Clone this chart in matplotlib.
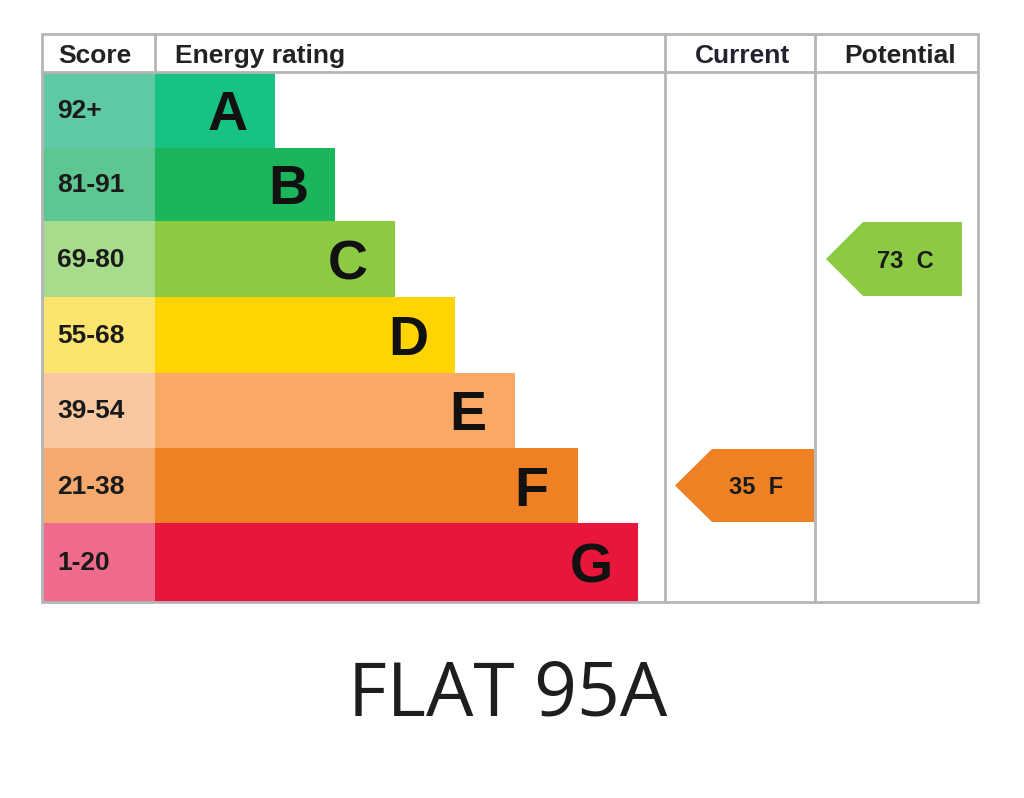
import matplotlib
matplotlib.use("Agg")
import matplotlib.pyplot as plt
from matplotlib.patches import Polygon, Rectangle

# ---- data ----
bands = ["A", "B", "C", "D", "E", "F", "G"]
score_ranges = ["92+", "81-91", "69-80", "55-68", "39-54", "21-38", "1-20"]
bar_colors = ["#17c283", "#1bb65c", "#8cca44", "#ffd400", "#f9a866", "#ef8125", "#e8163b"]
score_colors = ["#5ec9a2", "#5ec690", "#a6dc8b", "#fde46e", "#f9c7a0", "#f5a96e", "#ee6b8c"]
headers = ["Score", "Energy rating", "Current", "Potential"]
current_score, current_band = 35, "F"
potential_score, potential_band = 73, "C"
title = "FLAT 95A"

# ---- layout (pixel coordinates) ----
W, H = 1024, 798
fig = plt.figure(figsize=(W / 100, H / 100), dpi=100)
ax = fig.add_axes([0, 0, 1, 1])
ax.set_xlim(0, W)
ax.set_ylim(H, 0)
ax.axis("off")

left, right = 42, 978
top, head_bot, bottom = 34, 72, 602
x_score_end = 155
x_cur, x_pot = 665, 815
row_edges = [72, 148, 221, 297, 373, 448, 523, 602]
row_h = [row_edges[i + 1] - row_edges[i] for i in range(len(bands))]
centers = [(row_edges[i] + row_edges[i + 1]) / 2 for i in range(len(bands))]
bar_ends = [275, 335, 395, 455, 515, 578, 638]

# score cells
ax.barh(centers, [x_score_end - left] * len(bands), left=left, height=row_h,
        color=score_colors, edgecolor="none", zorder=1)
# rating bars
ax.barh(centers, [e - x_score_end for e in bar_ends], left=x_score_end, height=row_h,
        color=bar_colors, edgecolor="none", zorder=1)

lab_font = {"family": "Liberation Sans", "weight": "bold"}
for i, b in enumerate(bands):
    ax.text(57, centers[i] + 1, score_ranges[i], ha="left", va="center",
            fontsize=19, color="#1a1a1a", **lab_font, zorder=3)
    ax.text(bar_ends[i] - 47, centers[i] + 6, b, ha="center", va="center",
            fontsize=40, color="#111111", **lab_font, zorder=3)

# grid lines
gc = "#b5b5b5"
lw = 2
ax.add_patch(Rectangle((left, top), right - left, bottom - top, fill=False,
                       edgecolor=gc, linewidth=lw, zorder=4))
ax.plot([left, right], [head_bot, head_bot], color=gc, lw=lw, zorder=4)
ax.plot([x_score_end, x_score_end], [top, head_bot], color=gc, lw=lw, zorder=4)
for x in (x_cur, x_pot):
    ax.plot([x, x], [top, bottom], color=gc, lw=lw, zorder=4)

# headers
hy = (top + head_bot) / 2 + 3
ax.text(58, hy, headers[0], ha="left", va="center", fontsize=19, color="#222222", **lab_font)
ax.text(175, hy, headers[1], ha="left", va="center", fontsize=19, color="#222222", **lab_font)
ax.text((x_cur + x_pot) / 2 + 2, hy, headers[2], ha="center", va="center", fontsize=19,
        color="#222233", **lab_font)
ax.text((x_pot + right) / 2 + 4, hy, headers[3], ha="center", va="center", fontsize=19,
        color="#222222", **lab_font)


def arrow(x0, x1, band, score):
    i = bands.index(band)
    yc = centers[i]
    h = row_h[i] - 2
    tip = 37
    pts = [(x0, yc), (x0 + tip, yc - h / 2), (x1, yc - h / 2), (x1, yc + h / 2),
           (x0 + tip, yc + h / 2)]
    ax.add_patch(Polygon(pts, closed=True, facecolor=bar_colors[i], edgecolor="none", zorder=2))
    ax.text((x0 + tip * 0.6 + x1) / 2, yc + 2, f"{score}  {band}", ha="center", va="center",
            fontsize=17, color="#1a1a1a", **lab_font, zorder=3)


arrow(675, x_pot - 1, current_band, current_score)
arrow(826, 962, potential_band, potential_score)

ax.text(508, 696, title, ha="center", va="center", fontsize=54, color="#1e1e1e",
        family="Open Sans")

fig.savefig("out.png", dpi=100, facecolor="white")
